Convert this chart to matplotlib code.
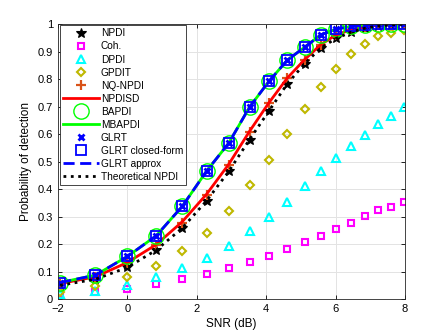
import numpy as np
import matplotlib.pyplot as plt

# SNR points (dB)
snr = [-1.94, -0.92, 0.0, 0.83, 1.58, 2.28, 2.92, 3.52, 4.08, 4.61,
       5.11, 5.58, 6.02, 6.44, 6.85, 7.23, 7.60, 7.96]

pd_npdi = [0.050, 0.072, 0.115, 0.178, 0.258, 0.357, 0.464, 0.580, 0.684, 0.783,
           0.856, 0.914, 0.948, 0.970, 0.985, 0.993, 0.997, 0.999]
pd_coh = [0.018, 0.027, 0.037, 0.056, 0.074, 0.091, 0.113, 0.133, 0.158, 0.181,
          0.207, 0.230, 0.256, 0.278, 0.302, 0.322, 0.336, 0.353]
pd_dpdi = [0.020, 0.030, 0.050, 0.081, 0.112, 0.150, 0.194, 0.248, 0.299, 0.352,
           0.411, 0.465, 0.512, 0.557, 0.598, 0.636, 0.665, 0.698]
pd_gpdit = [0.025, 0.048, 0.079, 0.120, 0.175, 0.241, 0.320, 0.413, 0.505, 0.600,
            0.691, 0.772, 0.835, 0.891, 0.928, 0.956, 0.968, 0.980]
pd_nq = [0.055, 0.080, 0.132, 0.196, 0.278, 0.378, 0.487, 0.608, 0.712, 0.802,
         0.869, 0.925, 0.960, 0.978, 0.990, 0.996, 0.999, 1.000]
pd_sd = [0.056, 0.081, 0.133, 0.198, 0.281, 0.381, 0.490, 0.610, 0.714, 0.804,
         0.871, 0.926, 0.961, 0.979, 0.990, 0.996, 0.999, 1.000]
pd_glrt = [0.060, 0.087, 0.155, 0.230, 0.337, 0.465, 0.567, 0.698, 0.792, 0.869,
           0.916, 0.961, 0.982, 0.991, 0.997, 0.999, 1.000, 1.000]
pd_theo = pd_npdi

labels = ['NPDI', 'Coh.', 'DPDI', 'GPDIT', 'NQ-NPDI', 'NPDISD', 'BAPDI', 'MBAPDI',
          'GLRT', 'GLRT closed-form', 'GLRT approx', 'Theoretical NPDI']

plt.rcParams['font.family'] = 'Liberation Sans'
fig = plt.figure(figsize=(4.48, 3.36), dpi=100)
ax = fig.add_axes([0.1295, 0.110, 0.7745, 0.8185])

olive = (0.75, 0.72, 0.0)
orange = (0.85, 0.325, 0.098)

ax.plot(snr, pd_npdi, 'k*', ms=7, mew=0.8, label=labels[0])
ax.plot(snr, pd_coh, 's', color='#ff00ff', mfc='none', ms=4.2, mew=1.5, label=labels[1])
ax.plot(snr, pd_dpdi, '^', color='#00ffff', mfc='none', ms=5.5, mew=1.5, label=labels[2])
ax.plot(snr, pd_gpdit, 'D', color=olive, mfc='none', ms=4.5, mew=1.5, label=labels[3])
ax.plot(snr, pd_nq, '+', color=orange, ms=7, mew=1.6, label=labels[4])
ax.plot(snr, pd_sd, '-', color='r', lw=2, label=labels[5])
ax.plot(snr, pd_glrt, 'o', color=(0, 1, 0), mfc='none', ms=11, mew=1.0, label=labels[6])
ax.plot(snr, pd_glrt, '-', color=(0, 1, 0), lw=2, label=labels[7])
ax.plot(snr, pd_glrt, 'x', color='b', ms=5, mew=2, label=labels[8])
ax.plot(snr, pd_glrt, 's', color='b', mfc='none', ms=7.5, mew=1.3, label=labels[9])
ax.plot(snr, pd_glrt, '--', color='b', lw=2, dashes=(4, 2), label=labels[10])
ax.plot(snr, pd_theo, ':', color='k', lw=2, label=labels[11])

ax.set_xlim(-2, 8)
ax.set_ylim(0, 1)
ax.set_xticks([-2, 0, 2, 4, 6, 8])
ax.set_yticks(np.arange(0, 1.01, 0.1))
ax.set_yticklabels(['0', '0.1', '0.2', '0.3', '0.4', '0.5', '0.6', '0.7', '0.8', '0.9', '1'])
ax.tick_params(direction='in', top=True, right=True, labelsize=8, length=3, width=0.6)
ax.grid(True, color='#e3e3e3', linewidth=0.7)
ax.set_axisbelow(True)
for s in ax.spines.values():
    s.set_color('#262626')
    s.set_linewidth(0.6)

ax.set_xlabel('SNR (dB)', fontsize=8.5, labelpad=3)
ax.set_ylabel('Probability of detection', fontsize=8.5, labelpad=4)

leg = ax.legend(loc='upper left', bbox_to_anchor=(0.005, 0.995), fontsize=7.3,
                handlelength=3.6, handletextpad=0.15, labelspacing=0.3,
                borderpad=0.3, borderaxespad=0, fancybox=False, framealpha=1)
leg.get_frame().set_edgecolor('#262626')
leg.get_frame().set_linewidth(0.6)

fig.savefig('out.png', dpi=100)
